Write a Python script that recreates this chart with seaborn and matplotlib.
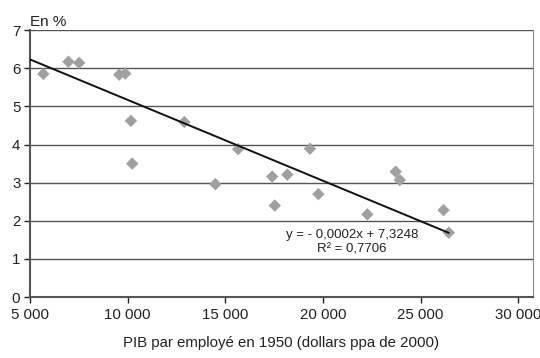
import numpy as np
import pandas as pd
import matplotlib
matplotlib.use("Agg")
import matplotlib.pyplot as plt
import seaborn as sns

# Data
pib_1950 = [5682, 6965, 7514, 9566, 9874, 10166, 10233, 12900, 14490, 15655,
            17400, 17530, 18170, 19330, 19760, 22270, 23720, 23930, 26170, 26440]
croissance = [5.85, 6.17, 6.14, 5.83, 5.86, 4.62, 3.50, 4.59, 2.96, 3.88,
              3.16, 2.40, 3.21, 3.89, 2.70, 2.17, 3.29, 3.07, 2.28, 1.69]
# trend line as drawn in the reference
trend_slope = -0.000212
trend_intercept = 7.29
trend_x_start = 5000
x_ticks = [5000, 10000, 15000, 20000, 25000, 30000]
x_tick_labels = ["5 000", "10 000", "15 000", "20 000", "25 000", "30 000"]
y_ticks = [0, 1, 2, 3, 4, 5, 6, 7]
equation_text = "y = - 0,0002x + 7,3248"
r2_text = "R² = 0,7706"

sns.set_style("white")
plt.rcParams["font.family"] = ["Liberation Sans", "DejaVu Sans"]

df = pd.DataFrame({"x": pib_1950, "y": croissance})

fig = plt.figure(figsize=(5.4, 3.58), dpi=100)
ax = fig.add_axes([0.0556, 0.170, 0.987 - 0.0556, 0.916 - 0.170])

for yv in y_ticks[1:]:
    ax.axhline(yv, color="#555555", lw=1.0, zorder=1)

sns.scatterplot(data=df, x="x", y="y", marker="D", s=40, color="#a0a0a0",
                edgecolor="none", ax=ax, zorder=3)

trend = pd.DataFrame({"x": [trend_x_start, max(pib_1950)]})
trend["y"] = trend_slope * trend["x"] + trend_intercept
sns.lineplot(data=trend, x="x", y="y", color="#111111", lw=1.4, ax=ax, zorder=4)

ax.set_xlim(5000, 30750)
ax.set_ylim(0, 7)
ax.set_xticks(x_ticks)
ax.set_xticklabels(x_tick_labels)
ax.set_yticks(y_ticks)
ax.tick_params(axis="both", labelsize=10.8, colors="#222222", length=4,
               width=1, direction="out", bottom=True, left=True)
ax.tick_params(axis="x", pad=4)
ax.tick_params(axis="y", pad=3)

for side in ["left", "bottom"]:
    ax.spines[side].set_color("#555555")
    ax.spines[side].set_linewidth(1.5)
ax.spines["right"].set_color("#888888")
ax.spines["right"].set_linewidth(0.8)
ax.spines["top"].set_visible(False)

ax.set_xlabel("PIB par employé en 1950 (dollars ppa de 2000)", fontsize=10.8,
              color="#222222", labelpad=10)
ax.set_ylabel("")

ax.text(0.0, 1.005, "En %", transform=ax.transAxes, fontsize=11,
        color="#222222", ha="left", va="bottom")

ax.text(21480, 1.63, equation_text, fontsize=9.5, color="#222222",
        ha="center", va="center")
ax.text(21480, 1.26, r2_text, fontsize=9.5, color="#222222",
        ha="center", va="center")

fig.savefig("out.png", dpi=100)
